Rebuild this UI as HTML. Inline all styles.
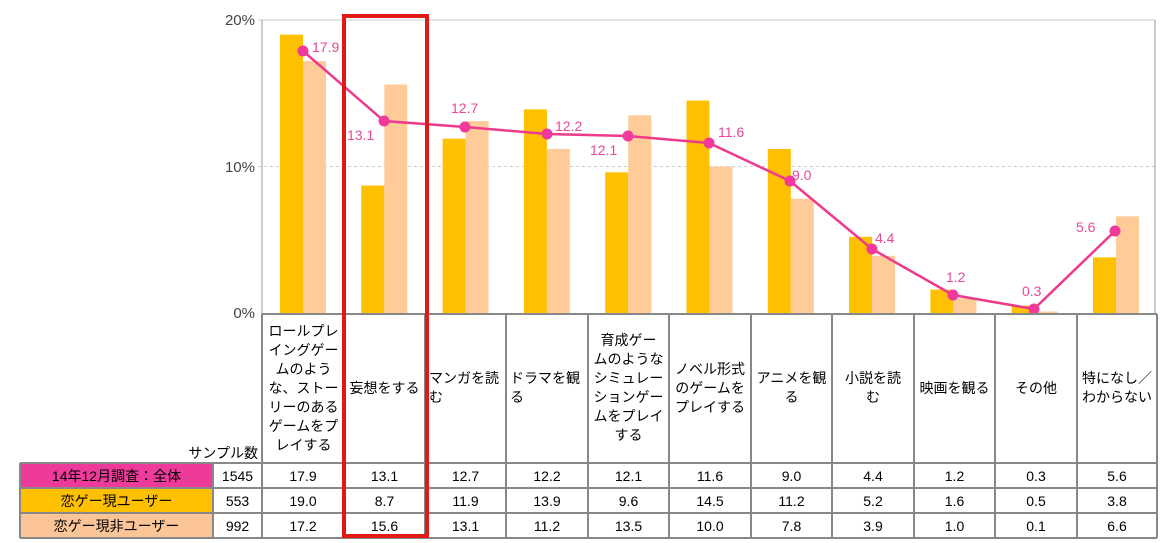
<!DOCTYPE html>
<html><head><meta charset="utf-8"><style>
body{margin:0;background:#fff;width:1168px;height:543px;overflow:hidden;position:relative;font-family:"Liberation Sans","Noto Sans CJK JP",sans-serif}
.h{position:absolute;top:314px;height:148px;display:flex;align-items:center;justify-content:center;text-align:center;font-size:14px;line-height:19px;color:#000}
.c{position:absolute;display:flex;align-items:center;justify-content:center;font-size:14px;color:#000}
</style></head><body>
<svg width="1168" height="543" style="position:absolute;left:0;top:0">
<g font-family="Liberation Sans, sans-serif" font-size="15" fill="#444">
<text x="255" y="25" text-anchor="end">20%</text>
<text x="255" y="172" text-anchor="end">10%</text>
<text x="255" y="318" text-anchor="end">0%</text>
</g>
<line x1="258" y1="20" x2="1155" y2="20" stroke="#ccc"/>
<line x1="258" y1="166.5" x2="1155" y2="166.5" stroke="#ccc" stroke-dasharray="3,3"/>
<line x1="262" y1="20" x2="262" y2="314" stroke="#999"/>
<line x1="1155" y1="20" x2="1155" y2="314" stroke="#999"/>
<g id="bars"></g>
<polyline fill="none" stroke="#EE3A8C" stroke-width="2.5" points="303,51 384,121 465,127 547,134 628,136 709,143 790,181 872,249 953,295 1034,309 1115,231"/>
<g fill="#F0399A">
<circle cx="303" cy="51" r="5.5"/><circle cx="384" cy="121" r="5.5"/><circle cx="465" cy="127" r="5.5"/><circle cx="547" cy="134" r="5.5"/><circle cx="628" cy="136" r="5.5"/><circle cx="709" cy="143" r="5.5"/><circle cx="790" cy="181" r="5.5"/><circle cx="872" cy="249" r="5.5"/><circle cx="953" cy="295" r="5.5"/><circle cx="1034" cy="309" r="5.5"/><circle cx="1115" cy="231" r="5.5"/>
</g>
<g font-family="Liberation Sans, sans-serif" font-size="14" fill="#E8479A">
<text x="312" y="52">17.9</text><text x="347" y="140">13.1</text><text x="451" y="113">12.7</text><text x="555" y="131">12.2</text><text x="590" y="155">12.1</text><text x="718" y="137">11.6</text><text x="792" y="180">9.0</text><text x="875" y="243">4.4</text><text x="946" y="282">1.2</text><text x="1022" y="296">0.3</text><text x="1076" y="232">5.6</text>
</g>
<g stroke="#888" stroke-width="2" fill="none">
<line x1="262" y1="314" x2="1157" y2="314"/>
<line x1="20" y1="463" x2="1157" y2="463"/>
<line x1="20" y1="488" x2="1157" y2="488"/>
<line x1="20" y1="513" x2="1157" y2="513"/>
<line x1="20" y1="538" x2="1157" y2="538"/>
<line x1="20" y1="463" x2="20" y2="538"/>
<line x1="213" y1="463" x2="213" y2="538"/>
<line x1="262" y1="314" x2="262" y2="538"/>
<line x1="344" y1="314" x2="344" y2="538"/><line x1="425" y1="314" x2="425" y2="538"/><line x1="506" y1="314" x2="506" y2="538"/><line x1="588" y1="314" x2="588" y2="538"/><line x1="669" y1="314" x2="669" y2="538"/><line x1="751" y1="314" x2="751" y2="538"/><line x1="832" y1="314" x2="832" y2="538"/><line x1="914" y1="314" x2="914" y2="538"/><line x1="995" y1="314" x2="995" y2="538"/><line x1="1077" y1="314" x2="1077" y2="538"/><line x1="1157" y1="314" x2="1157" y2="538"/>
</g>
<rect x="21" y="464" width="191" height="23" fill="#EE3A9A"/>
<rect x="21" y="489" width="191" height="23" fill="#FFC000"/>
<rect x="21" y="514" width="191" height="23" fill="#FBC597"/>
<rect x="344" y="16" width="83" height="520" fill="none" stroke="#E01818" stroke-width="4"/>
</svg>
<script>
var o=[19.0,8.7,11.9,13.9,9.6,14.5,11.2,5.2,1.6,0.5,3.8],p=[17.2,15.6,13.1,11.2,13.5,10.0,7.8,3.9,1.0,0.1,6.6],s='';
for(var i=0;i<11;i++){var cx=303+i*81.3,ho=o[i]*14.65,hp=p[i]*14.65;
s+='<rect x="'+(cx-23)+'" y="'+(313-ho)+'" width="23" height="'+ho+'" fill="#FFC000"/>';
s+='<rect x="'+cx+'" y="'+(313-hp)+'" width="23" height="'+hp+'" fill="#FFCC99"/>';}
document.getElementById('bars').innerHTML=s;
</script>
<div class="h" style="left:263px;width:81px">ロールプレ<br>イングゲー<br>ムのよう<br>な、ストー<br>リーのある<br>ゲームをプ<br>レイする</div>
<div class="h" style="left:344px;width:81px">妄想をする</div>
<div class="h" style="left:425px;width:81px;text-align:left;justify-content:flex-start;padding-left:4px">マンガを読<br>む</div>
<div class="h" style="left:506px;width:82px;justify-content:flex-start;text-align:left;padding-left:4px">ドラマを観<br>る</div>
<div class="h" style="left:588px;width:81px">育成ゲー<br>ムのような<br>シミュレー<br>ションゲー<br>ムをプレイ<br>する</div>
<div class="h" style="left:669px;width:82px">ノベル形式<br>のゲームを<br>プレイする</div>
<div class="h" style="left:751px;width:81px">アニメを観<br>る</div>
<div class="h" style="left:832px;width:82px">小説を読<br>む</div>
<div class="h" style="left:914px;width:81px">映画を観る</div>
<div class="h" style="left:995px;width:82px">その他</div>
<div class="h" style="left:1077px;width:80px">特になし／<br>わからない</div>
<div class="c" style="left:148px;top:443px;width:110px;height:20px;justify-content:flex-end">サンプル数</div>
<div id="rows"></div>
<script>
var lab=['14年12月調査：全体','恋ゲー現ユーザー','恋ゲー現非ユーザー'],n=['1545','553','992'],
d=[[17.9,13.1,12.7,12.2,12.1,11.6,9.0,4.4,1.2,0.3,5.6],[19.0,8.7,11.9,13.9,9.6,14.5,11.2,5.2,1.6,0.5,3.8],[17.2,15.6,13.1,11.2,13.5,10.0,7.8,3.9,1.0,0.1,6.6]],
x=[262,344,425,506,588,669,751,832,914,995,1077,1157],h='';
for(var r=0;r<3;r++){var t=464+r*25;
h+='<div class="c" style="left:20px;top:'+t+'px;width:193px;height:24px">'+lab[r]+'</div>';
h+='<div class="c" style="left:213px;top:'+t+'px;width:49px;height:24px">'+n[r]+'</div>';
for(var i=0;i<11;i++)h+='<div class="c" style="left:'+x[i]+'px;top:'+t+'px;width:'+(x[i+1]-x[i])+'px;height:24px">'+d[r][i].toFixed(1)+'</div>';}
document.getElementById('rows').innerHTML=h;
</script>
</body></html>
